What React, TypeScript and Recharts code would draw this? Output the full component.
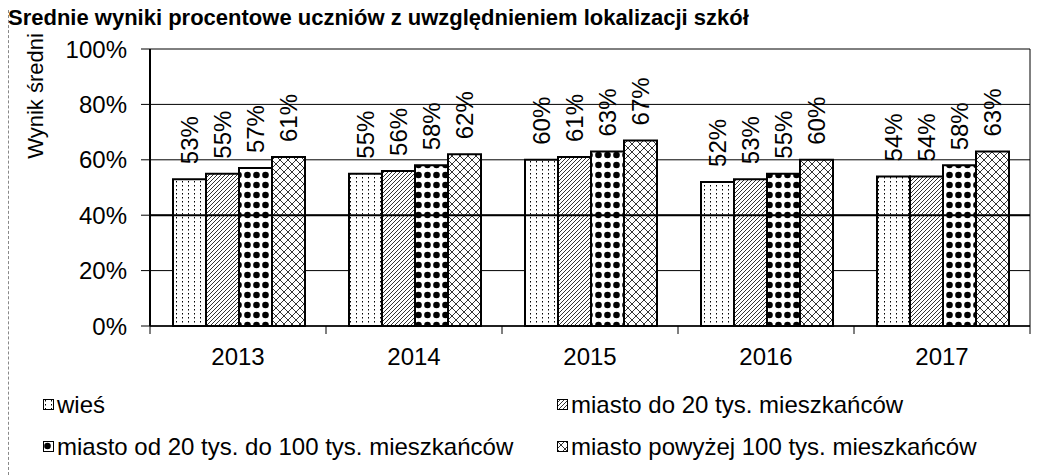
import { BarChart, Bar, XAxis, YAxis, CartesianGrid, LabelList, Legend, ReferenceLine } from "recharts";

const years = ["2013", "2014", "2015", "2016", "2017"];
const wies = [53, 55, 60, 52, 54];
const miastoDo20 = [55, 56, 61, 53, 54];
const miasto20do100 = [57, 58, 63, 55, 58];
const miastoPow100 = [61, 62, 67, 60, 63];
const yTicks = [0, 20, 40, 60, 80, 100];

const series = [
  { key: "wies", name: "wieś", pattern: "pat-dots" },
  { key: "do20", name: "miasto do 20 tys. mieszkańców", pattern: "pat-hatch" },
  { key: "od20do100", name: "miasto od 20 tys. do 100 tys. mieszkańców", pattern: "pat-bigdots" },
  { key: "pow100", name: "miasto powyżej 100 tys. mieszkańców", pattern: "pat-cross" },
];

const data = years.map((year, i) => ({
  year,
  wies: wies[i],
  do20: miastoDo20[i],
  od20do100: miasto20do100[i],
  pow100: miastoPow100[i],
}));

const FONT = "'Liberation Sans', Arial, sans-serif";

function ValueLabel(props: any) {
  const { x, y, width, value } = props;
  const cx = Number(x) + Number(width) / 2;
  const cy = Number(y) - 15;
  return (
    <text
      x={cx}
      y={cy}
      transform={`rotate(-90 ${cx} ${cy})`}
      textAnchor="start"
      dominantBaseline="central"
      fontSize={24}
      fontFamily={FONT}
      fill="#000"
    >
      {value}%
    </text>
  );
}

function YearTick(props: any) {
  const { x, y, payload, index } = props;
  const half = payload && payload.offset ? payload.offset : 88;
  return (
    <g>
      <line x1={x - half} x2={x - half} y1={y} y2={y + 8} stroke="#000" />
      {index === years.length - 1 && <line x1={x + half} x2={x + half} y1={y} y2={y + 8} stroke="#000" />}
      <text x={x} y={y + 39} textAnchor="middle" fontSize={24} fontFamily={FONT} fill="#000">
        {payload.value}
      </text>
    </g>
  );
}

function YTitle(props: any) {
  const vb = props.viewBox || { x: 0, y: 49 };
  const cx = vb.x + 35;
  const cy = vb.y + 47;
  return (
    <text
      x={cx}
      y={cy}
      transform={`rotate(-90 ${cx} ${cy})`}
      textAnchor="middle"
      dominantBaseline="central"
      fontSize={22}
      fontFamily={FONT}
      fill="#000"
    >
      Wynik średni
    </text>
  );
}

function LegendContent() {
  return (
    <div style={{ display: "grid", gridTemplateColumns: "514px 480px", rowGap: 18, fontFamily: FONT }}>
      {series.map((s) => (
        <div key={s.key} style={{ display: "flex", alignItems: "center", height: 24, fontSize: 24, color: "#000" }}>
          <svg width={12} height={12} style={{ marginRight: 2 }}>
            <rect x={0.5} y={0.5} width={10} height={10} fill={`url(#${s.pattern})`} stroke="#000" />
          </svg>
          <span>{s.name}</span>
        </div>
      ))}
    </div>
  );
}

export default function App() {
  return (
    <div style={{ position: "relative", width: 1045, height: 475, margin: "-8px 0 0 -8px", fontFamily: FONT, overflow: "hidden" }}>
      <div
        style={{
          position: "absolute",
          left: 8,
          top: 6,
          fontSize: 22,
          lineHeight: "24px",
          fontWeight: "bold",
          whiteSpace: "nowrap",
          color: "#000",
        }}
      >
        Średnie wyniki procentowe uczniów z uwzględnieniem lokalizacji szkół
      </div>
      <div style={{ position: "absolute", left: 8, top: 10, height: 465, borderLeft: "1px dashed #888" }} />
      <div style={{ position: "absolute", left: 0, top: 0 }}>
        <BarChart
          width={1045}
          height={475}
          data={data}
          margin={{ top: 49, right: 0, bottom: 0, left: 0 }}
          barCategoryGap={23}
          barGap={0}
        >
          <defs>
            <pattern id="pat-dots" patternUnits="userSpaceOnUse" width={6} height={4}>
              <rect width={6} height={4} fill="#fff" />
              <rect x={2} y={1} width={1} height={1.5} fill="#000" />
            </pattern>
            <pattern id="pat-hatch" patternUnits="userSpaceOnUse" width={4} height={4}>
              <rect width={4} height={4} fill="#fff" />
              <path d="M-1,1 L1,-1 M0,4 L4,0 M3,5 L5,3" stroke="#000" strokeWidth={0.8} />
            </pattern>
            <pattern id="pat-bigdots" patternUnits="userSpaceOnUse" width={9} height={10}>
              <rect width={9} height={10} fill="#fff" />
              <circle cx={4.5} cy={5} r={3.3} fill="#000" />
            </pattern>
            <pattern id="pat-cross" patternUnits="userSpaceOnUse" width={8} height={8}>
              <rect width={8} height={8} fill="#fff" />
              <path d="M0,0 L8,8 M8,0 L0,8" stroke="#000" strokeWidth={0.8} />
            </pattern>
          </defs>
          <CartesianGrid vertical={false} stroke="#000" strokeWidth={1} />
          <ReferenceLine y={40} stroke="#000" strokeWidth={2} />
          <XAxis
            dataKey="year"
            height={149}
            tickSize={0}
            tickMargin={0}
            tickLine={false}
            axisLine={{ stroke: "#000", strokeWidth: 1.5 }}
            tick={<YearTick />}
            interval={0}
          />
          <YAxis
            domain={[0, 100]}
            ticks={yTicks}
            interval={0}
            width={150}
            tickFormatter={(v: number) => `${v}%`}
            tick={{ fontSize: 24, fill: "#000", fontFamily: FONT }}
            tickSize={9}
            tickMargin={14}
            tickLine={{ stroke: "#000" }}
            axisLine={{ stroke: "#000", strokeWidth: 2 }}
            label={<YTitle />}
          />
          <YAxis
            yAxisId="right"
            orientation="right"
            width={15}
            domain={[0, 100]}
            tick={false}
            tickLine={false}
            axisLine={{ stroke: "#000" }}
          />
          <Legend
            layout="horizontal"
            verticalAlign="middle"
            align="center"
            wrapperStyle={{ top: 393, left: 43, width: 1000, height: 70 }}
            content={<LegendContent />}
          />
          {series.map((s) => (
            <Bar
              key={s.key}
              dataKey={s.key}
              name={s.name}
              fill={`url(#${s.pattern})`}
              stroke="#000"
              strokeWidth={2}
              isAnimationActive={false}
            >
              <LabelList dataKey={s.key} content={<ValueLabel />} />
            </Bar>
          ))}
        </BarChart>
      </div>
    </div>
  );
}
